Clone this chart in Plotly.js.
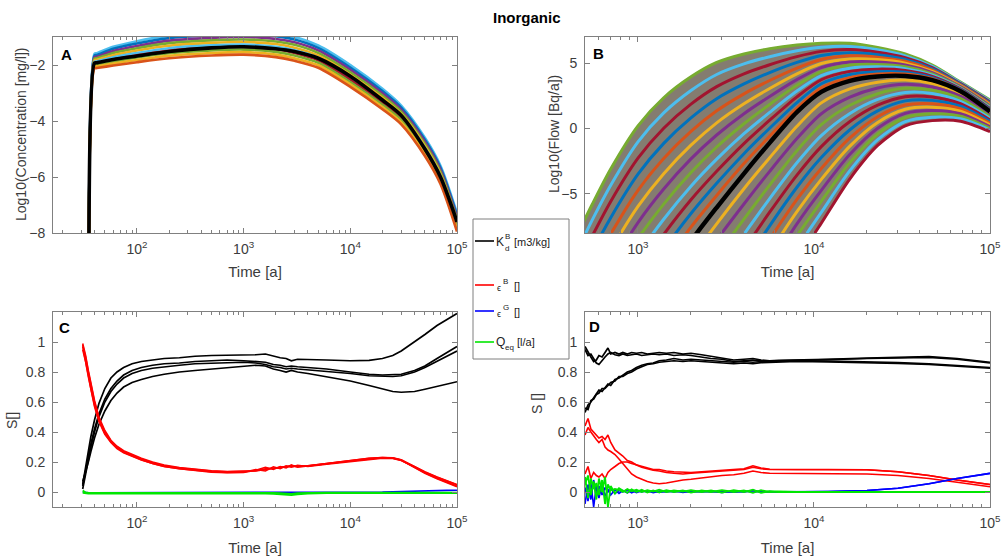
<!DOCTYPE html>
<html>
<head>
<meta charset="utf-8">
<script src="https://cdn.plot.ly/plotly-3.0.1.min.js"></script>
<style>
  html, body { margin: 0; padding: 0; background: #ffffff; }
  #chart { width: 1003px; height: 560px; }
</style>
</head>
<body>
<div id="chart"></div>
<script>
// ---------- Panel A: log10 concentration runs ----------
const timeA = [35.5, 40, 42, 60, 100, 200, 500, 1000, 2000, 3000, 5000, 10000, 20000, 30000, 50000, 70000, 100000];
const concTop    = [-8, -1.6, -1.58, -1.35, -1.15, -0.95, -0.85, -0.82, -0.88, -1.0, -1.3, -2.0, -2.85, -3.45, -4.6, -5.6, -7.3];
const concRun1   = [-8, -1.66, -1.645, -1.42, -1.23, -1.04, -0.94, -0.91, -0.97, -1.09, -1.39, -2.09, -2.93, -3.52, -4.67, -5.67, -7.37];
const concRun2   = [-8, -1.72, -1.705, -1.5, -1.32, -1.13, -1.03, -1.0, -1.07, -1.19, -1.48, -2.17, -3.01, -3.6, -4.74, -5.74, -7.44];
const concRun3   = [-8, -1.77, -1.755, -1.57, -1.4, -1.22, -1.12, -1.09, -1.16, -1.28, -1.57, -2.26, -3.09, -3.67, -4.82, -5.82, -7.52];
const concRun4   = [-8, -1.83, -1.815, -1.65, -1.48, -1.31, -1.21, -1.18, -1.25, -1.38, -1.66, -2.35, -3.17, -3.75, -4.89, -5.89, -7.59];
const concRun5   = [-8, -1.89, -1.875, -1.72, -1.57, -1.4, -1.3, -1.27, -1.35, -1.47, -1.74, -2.43, -3.26, -3.82, -4.96, -5.96, -7.66];
const concRun6   = [-8, -1.95, -1.935, -1.8, -1.65, -1.49, -1.39, -1.36, -1.44, -1.57, -1.83, -2.52, -3.34, -3.9, -5.03, -6.03, -7.73];
const concRun7   = [-8, -2.0, -1.99, -1.87, -1.73, -1.58, -1.48, -1.45, -1.53, -1.66, -1.92, -2.61, -3.42, -3.97, -5.11, -6.11, -7.81];
const concRun8   = [-8, -2.06, -2.05, -1.95, -1.82, -1.67, -1.57, -1.54, -1.63, -1.76, -2.01, -2.69, -3.5, -4.05, -5.18, -6.18, -7.88];
const concBottom = [-8, -2.12, -2.11, -2.02, -1.9, -1.76, -1.66, -1.63, -1.72, -1.85, -2.1, -2.78, -3.58, -4.12, -5.25, -6.25, -7.95];
const concBase   = [-8, -1.93, -1.92, -1.80, -1.68, -1.52, -1.39, -1.35, -1.42, -1.52, -1.76, -2.40, -3.25, -3.80, -5.0, -6.0, -7.6];

// ---------- Panel B: log10 flow runs ----------
const timeB = [450, 550, 700, 1000, 1400, 2000, 2800, 4000, 5600, 8000, 11000, 16000, 23000, 33000, 47000, 68000, 100000];
const flowTop    = [-8.2, -5.8, -3.1, 0.2, 2.35, 3.95, 5.05, 5.7, 6.1, 6.38, 6.52, 6.52, 6.2, 5.7, 4.85, 3.55, 2.18];
const flowBase   = [-22.5, -20.3, -18, -14.6, -11.6, -8.6, -6.05, -3.45, -1.1, 1.25, 2.8, 3.65, 3.98, 4.02, 3.7, 2.85, 1.3];
const flowBottom = [-44, -41, -38, -33, -29, -25, -21, -17.4, -13.7, -10.1, -7.25, -3.85, -1.3, 0.2, 0.6, 0.55, -0.25];
const flowRunsHigh = [
  [-9.4, -7.0, -4.35, -1.03, 1.19, 2.9, 4.13, 4.94, 5.49, 5.94, 6.21, 6.28, 6.02, 5.56, 4.75, 3.49, 2.11],
  [-10.58, -8.22, -5.58, -2.27, 0.02, 1.86, 3.2, 4.18, 4.88, 5.5, 5.9, 6.04, 5.83, 5.42, 4.66, 3.43, 2.03],
  [-11.78, -9.43, -6.83, -3.5, -1.14, 0.81, 2.28, 3.41, 4.28, 5.06, 5.59, 5.8, 5.65, 5.28, 4.56, 3.38, 1.96],
  [-12.97, -10.63, -8.07, -4.73, -2.3, -0.23, 1.35, 2.65, 3.67, 4.62, 5.28, 5.56, 5.46, 5.14, 4.47, 3.32, 1.89],
  [-14.16, -11.84, -9.31, -5.97, -3.46, -1.28, 0.43, 1.89, 3.06, 4.18, 4.97, 5.32, 5.27, 5.0, 4.37, 3.26, 1.81],
  [-15.35, -13.05, -10.55, -7.2, -4.63, -2.33, -0.5, 1.13, 2.45, 3.74, 4.66, 5.09, 5.09, 4.86, 4.28, 3.2, 1.74],
  [-16.54, -14.26, -11.79, -8.43, -5.79, -3.37, -1.42, 0.36, 1.84, 3.3, 4.35, 4.85, 4.9, 4.72, 4.18, 3.14, 1.67],
  [-17.73, -15.47, -13.03, -9.67, -6.95, -4.42, -2.35, -0.4, 1.23, 2.86, 4.04, 4.61, 4.72, 4.58, 4.08, 3.08, 1.59],
  [-18.93, -16.68, -14.28, -10.9, -8.11, -5.46, -3.28, -1.16, 0.63, 2.42, 3.73, 4.37, 4.54, 4.44, 3.99, 3.03, 1.52],
  [-20.12, -17.88, -15.52, -12.13, -9.27, -6.51, -4.2, -1.93, 0.02, 1.98, 3.42, 4.13, 4.35, 4.3, 3.89, 2.97, 1.45],
  [-21.31, -19.09, -16.76, -13.37, -10.44, -7.55, -5.13, -2.69, -0.59, 1.54, 3.11, 3.89, 4.17, 4.16, 3.8, 2.91, 1.37]
];
const flowRunsLow = [
  [null, null, null, null, -13.05, -9.97, -7.3, -4.61, -2.24, 0.17, 1.96, 3.03, 3.54, 3.7, 3.44, 2.66, 1.17],
  [null, null, null, null, -14.5, -11.33, -8.54, -5.78, -3.28, -0.77, 1.13, 2.4, 3.1, 3.38, 3.18, 2.47, 1.04],
  [null, null, null, null, -15.95, -12.7, -9.79, -6.94, -4.33, -1.7, 0.29, 1.78, 2.66, 3.07, 2.93, 2.28, 0.91],
  [null, null, null, null, -17.4, -14.07, -11.03, -8.1, -5.37, -2.63, -0.55, 1.15, 2.22, 2.75, 2.67, 2.08, 0.78],
  [null, null, null, null, -18.85, -15.43, -12.28, -9.26, -6.41, -3.57, -1.39, 0.53, 1.78, 2.43, 2.41, 1.89, 0.65],
  [null, null, null, null, -20.3, -16.8, -13.53, -10.43, -7.45, -4.5, -2.23, -0.1, 1.34, 2.11, 2.15, 1.7, 0.53],
  [null, null, null, null, -21.75, -18.17, -14.77, -11.59, -8.49, -5.43, -3.06, -0.72, 0.9, 1.79, 1.89, 1.51, 0.4],
  [null, null, null, null, -23.2, -19.53, -16.02, -12.75, -9.53, -6.37, -3.9, -1.35, 0.46, 1.47, 1.63, 1.32, 0.27],
  [null, null, null, null, -24.65, -20.9, -17.26, -13.91, -10.58, -7.3, -4.74, -1.98, 0.02, 1.16, 1.38, 1.13, 0.14],
  [null, null, null, null, -26.1, -22.27, -18.51, -15.08, -11.62, -8.23, -5.58, -2.6, -0.42, 0.84, 1.12, 0.93, 0.01],
  [null, null, null, null, -27.55, -23.63, -19.75, -16.24, -12.66, -9.17, -6.42, -3.23, -0.86, 0.52, 0.86, 0.74, -0.12]
];

// ---------- Panel C: sensitivity indices, concentration ----------
const timeC = [31, 33, 35, 37, 40, 44, 50, 57, 65, 75, 90, 110, 140, 180, 250, 350, 500, 700, 1000, 1300,
               1600, 1900, 2200, 2500, 2800, 3200, 4000, 6000, 10000, 15000, 20000, 25000, 30000, 40000, 50000, 65000, 80000, 100000];
const kdC1 = [0.05, 0.17, 0.28, 0.37, 0.48, 0.59, 0.69, 0.76, 0.80, 0.83, 0.855, 0.87, 0.88, 0.89, 0.895, 0.905, 0.91, 0.91, 0.91, 0.915,
              0.92, 0.905, 0.895, 0.89, 0.875, 0.885, 0.885, 0.88, 0.875, 0.878, 0.89, 0.91, 0.94, 1.0, 1.05, 1.11, 1.15, 1.19];
const kdC2 = [0.04, 0.14, 0.24, 0.32, 0.42, 0.52, 0.62, 0.69, 0.74, 0.78, 0.81, 0.83, 0.845, 0.855, 0.86, 0.87, 0.875, 0.88, 0.875, 0.87,
              0.865, 0.85, 0.845, 0.835, 0.84, 0.835, 0.83, 0.82, 0.80, 0.785, 0.78, 0.78, 0.785, 0.81, 0.84, 0.89, 0.93, 0.97];
const kdC3 = [0.02, 0.12, 0.22, 0.30, 0.40, 0.50, 0.60, 0.67, 0.72, 0.76, 0.79, 0.81, 0.825, 0.835, 0.845, 0.855, 0.86, 0.865, 0.865, 0.86,
              0.85, 0.835, 0.83, 0.82, 0.825, 0.82, 0.815, 0.805, 0.79, 0.775, 0.77, 0.77, 0.775, 0.80, 0.83, 0.87, 0.905, 0.94];
const kdC4 = [0.07, 0.13, 0.2, 0.27, 0.36, 0.45, 0.54, 0.61, 0.66, 0.70, 0.73, 0.75, 0.77, 0.785, 0.80, 0.81, 0.82, 0.83, 0.84, 0.845,
              0.84, 0.82, 0.81, 0.80, 0.81, 0.80, 0.79, 0.77, 0.74, 0.71, 0.685, 0.67, 0.665, 0.67, 0.685, 0.705, 0.72, 0.735];
const epsBC1 = [0.98, 0.90, 0.80, 0.71, 0.60, 0.49, 0.40, 0.34, 0.30, 0.27, 0.245, 0.22, 0.195, 0.175, 0.16, 0.15, 0.14, 0.135, 0.135, 0.14,
                0.15, 0.16, 0.165, 0.17, 0.175, 0.172, 0.175, 0.19, 0.21, 0.225, 0.23, 0.228, 0.215, 0.17, 0.135, 0.1, 0.075, 0.05];
const epsBC2 = [0.97, 0.88, 0.78, 0.69, 0.58, 0.48, 0.39, 0.335, 0.295, 0.265, 0.24, 0.215, 0.19, 0.17, 0.155, 0.145, 0.135, 0.13, 0.13, 0.145,
                0.165, 0.15, 0.17, 0.16, 0.18, 0.165, 0.172, 0.188, 0.207, 0.222, 0.228, 0.226, 0.212, 0.165, 0.128, 0.092, 0.066, 0.04];
const epsBC3 = [0.95, 0.87, 0.77, 0.68, 0.57, 0.47, 0.385, 0.33, 0.29, 0.262, 0.238, 0.213, 0.19, 0.17, 0.155, 0.143, 0.132, 0.128, 0.132, 0.15,
                0.14, 0.168, 0.155, 0.175, 0.165, 0.178, 0.17, 0.186, 0.205, 0.22, 0.226, 0.224, 0.21, 0.168, 0.132, 0.098, 0.072, 0.048];
const epsBC4 = [0.99, 0.91, 0.81, 0.72, 0.61, 0.5, 0.41, 0.345, 0.305, 0.275, 0.25, 0.225, 0.2, 0.18, 0.163, 0.152, 0.142, 0.137, 0.138, 0.142,
                0.155, 0.158, 0.162, 0.168, 0.172, 0.17, 0.174, 0.189, 0.209, 0.224, 0.23, 0.227, 0.213, 0.162, 0.125, 0.088, 0.062, 0.035];
const epsGC1 = [0.0, -0.005, -0.005, -0.005, -0.005, -0.005, -0.005, -0.005, -0.005, -0.005, -0.005, -0.005, -0.005, -0.005, -0.005, -0.005, -0.005, -0.005, -0.005, -0.005,
                -0.005, -0.005, -0.005, -0.005, -0.005, -0.005, -0.005, -0.005, -0.004, -0.002, 0.0, 0.002, 0.004, 0.006, 0.008, 0.01, 0.011, 0.012];
const qeqC1 = [0.01, -0.004, -0.005, -0.005, -0.005, -0.005, -0.005, -0.005, -0.005, -0.005, -0.004, -0.004, -0.004, -0.003, -0.003, -0.002, -0.002, -0.002, -0.002, -0.003,
               -0.004, -0.006, -0.008, -0.01, -0.012, -0.008, -0.005, -0.004, -0.004, -0.004, -0.004, -0.004, -0.004, -0.004, -0.004, -0.004, -0.004, -0.004];
const qeqC2 = [-0.005, -0.01, -0.01, -0.01, -0.01, -0.01, -0.01, -0.01, -0.01, -0.01, -0.009, -0.009, -0.008, -0.008, -0.007, -0.006, -0.005, -0.005, -0.006, -0.008,
               -0.01, -0.013, -0.016, -0.019, -0.021, -0.015, -0.01, -0.008, -0.008, -0.008, -0.008, -0.008, -0.008, -0.008, -0.008, -0.008, -0.008, -0.008];

// ---------- Panel D: sensitivity indices, flow ----------
const timeD = [500, 520, 540, 560, 580, 600, 625, 650, 675, 700, 740, 780, 820, 870, 920, 980, 1050, 1130, 1220, 1320,
               1450, 1600, 1800, 2000, 2300, 2600, 3000, 3500, 4000, 4500, 5000, 5600, 6300, 8000, 12000, 20000, 30000, 45000, 65000, 100000];
const kdD1 = [0.97, 0.93, 0.90, 0.87, 0.88, 0.91, 0.90, 0.93, 0.96, 0.92, 0.93, 0.92, 0.93, 0.92, 0.93, 0.925, 0.93, 0.92, 0.925, 0.93,
              0.925, 0.93, 0.92, 0.925, 0.915, 0.905, 0.895, 0.88, 0.885, 0.89, 0.88, 0.875, 0.878, 0.88, 0.885, 0.893, 0.90, 0.903, 0.89, 0.865];
const kdD2 = [0.95, 0.91, 0.92, 0.89, 0.86, 0.85, 0.88, 0.90, 0.92, 0.93, 0.915, 0.91, 0.92, 0.91, 0.915, 0.92, 0.91, 0.915, 0.92, 0.915,
              0.92, 0.91, 0.915, 0.91, 0.90, 0.89, 0.885, 0.87, 0.875, 0.88, 0.875, 0.87, 0.875, 0.877, 0.882, 0.89, 0.896, 0.898, 0.885, 0.86];
const kdD3 = [0.53, 0.58, 0.60, 0.63, 0.66, 0.68, 0.67, 0.70, 0.72, 0.71, 0.75, 0.76, 0.78, 0.80, 0.81, 0.83, 0.845, 0.855, 0.86, 0.875,
              0.88, 0.89, 0.88, 0.885, 0.88, 0.875, 0.87, 0.865, 0.87, 0.865, 0.87, 0.872, 0.873, 0.874, 0.872, 0.868, 0.862, 0.855, 0.845, 0.83];
const kdD4 = [0.56, 0.55, 0.61, 0.62, 0.65, 0.66, 0.69, 0.69, 0.71, 0.73, 0.74, 0.77, 0.77, 0.79, 0.80, 0.82, 0.835, 0.85, 0.855, 0.865,
              0.87, 0.875, 0.87, 0.875, 0.87, 0.865, 0.86, 0.855, 0.86, 0.855, 0.862, 0.865, 0.868, 0.87, 0.868, 0.863, 0.857, 0.85, 0.84, 0.825];
const epsBD1 = [0.44, 0.49, 0.42, 0.40, 0.38, 0.36, 0.37, 0.35, 0.38, 0.33, 0.28, 0.26, 0.24, 0.21, 0.20, 0.18, 0.165, 0.155, 0.145, 0.14,
                0.13, 0.125, 0.12, 0.125, 0.13, 0.135, 0.14, 0.145, 0.15, 0.165, 0.155, 0.15, 0.15, 0.15, 0.15, 0.148, 0.135, 0.11, 0.08, 0.05];
const epsBD2 = [0.38, 0.43, 0.40, 0.37, 0.35, 0.33, 0.35, 0.30, 0.28, 0.27, 0.25, 0.22, 0.19, 0.15, 0.12, 0.10, 0.085, 0.07, 0.06, 0.055,
                0.06, 0.07, 0.08, 0.085, 0.095, 0.10, 0.11, 0.115, 0.125, 0.14, 0.13, 0.125, 0.125, 0.125, 0.124, 0.12, 0.11, 0.09, 0.065, 0.035];
const epsBD3 = [0.12, 0.17, 0.09, 0.13, 0.11, 0.10, 0.12, 0.09, 0.13, 0.15, 0.17, 0.19, 0.20, 0.20, 0.19, 0.18, 0.17, 0.16, 0.15, 0.15,
                0.14, 0.135, 0.13, 0.13, 0.135, 0.14, 0.145, 0.15, 0.155, 0.175, 0.16, 0.152, 0.15, 0.15, 0.15, 0.148, 0.135, 0.11, 0.08, 0.05];
const epsGD1 = [-0.08, 0.05, -0.05, 0.08, -0.03, 0.04, -0.02, 0.03, 0.0, 0.02, -0.01, 0.01, 0.0, 0.015, -0.005, 0.01, 0.0, 0.008, -0.004, 0.006,
                0.0, 0.008, -0.003, 0.005, 0.0, 0.006, -0.003, 0.004, 0.0, 0.012, 0.0, 0.003, 0.0, 0.0, 0.003, 0.01, 0.025, 0.055, 0.09, 0.124];
const epsGD2 = [0.03, -0.06, 0.06, -0.1, 0.04, -0.04, 0.05, -0.03, 0.02, -0.02, 0.015, -0.01, 0.01, -0.005, 0.012, -0.004, 0.008, 0.0, 0.007, -0.003,
                0.006, 0.0, 0.005, -0.002, 0.006, 0.0, 0.004, -0.002, 0.005, 0.0, 0.004, 0.0, 0.001, 0.0, 0.003, 0.01, 0.025, 0.055, 0.09, 0.124];
const qeqD1 = [0.10, -0.04, 0.09, 0.02, 0.06, -0.02, 0.08, -0.08, 0.05, 0.01, 0.02, 0.015, 0.0, 0.02, 0.005, 0.015, 0.0, 0.012, 0.003, 0.015,
               0.0, 0.01, 0.002, 0.012, 0.0, 0.01, -0.004, 0.012, 0.0, 0.015, -0.005, 0.005, 0.0, 0.0, 0.0, 0.0, 0.0, 0.0, 0.0, 0.0];
const qeqD2 = [0.05, 0.11, -0.02, 0.07, -0.05, 0.09, 0.0, 0.1, -0.1, 0.04, -0.01, 0.025, 0.01, -0.005, 0.018, 0.0, 0.015, -0.003, 0.01, -0.002,
               0.012, 0.0, 0.01, -0.004, 0.01, 0.0, 0.012, 0.0, 0.01, -0.005, 0.012, 0.0, 0.004, 0.0, 0.0, 0.0, 0.0, 0.0, 0.0, 0.0];

// ---------- styling ----------
const W = 1003, H = 560;
const runColors = ['#0072BD', '#D95319', '#EDB120', '#7E2F8E', '#77AC30', '#4DBEEE', '#A2142F'];
const concColors = ['#4DBEEE', '#0072BD', '#7E2F8E', '#77AC30', '#EDB120', '#4DBEEE', '#A2142F', '#77AC30', '#EDB120', '#D95319'];
const C_KD = '#000000', C_EB = '#ff0000', C_EG = '#0000ff', C_Q = '#00e600';
const FONT = 'Liberation Sans, Arial, Helvetica, sans-serif';
const AXIS = '#808080', TICKTXT = '#3c3c3c';
const px = v => v / W;          // pixel column -> paper x
const py = v => 1 - v / H;      // pixel row -> paper y

const traces = [];
function addLine(x, y, xa, ya, color, width, shape) {
  traces.push({
    type: 'scatter', mode: 'lines', x: x, y: y, xaxis: xa, yaxis: ya,
    line: { color: color, width: width, shape: shape || 'linear', smoothing: 0.8 },
    hoverinfo: 'skip', showlegend: false
  });
}

// Panel A
const concRuns = [concTop, concRun1, concRun2, concRun3, concRun4, concRun5, concRun6, concRun7, concRun8, concBottom];
concRuns.forEach((r, i) => addLine(timeA, r, 'x', 'y', concColors[i], 2.6, 'spline'));
addLine(timeA, concBase, 'x', 'y', '#000000', 3.6, 'spline');

// Panel B: shaded band behind the runs, then the runs, then the base case
traces.push({ type: 'scatter', mode: 'lines', x: timeB, y: flowBottom, xaxis: 'x2', yaxis: 'y2',
  line: { width: 0, shape: 'spline', smoothing: 0.8 }, hoverinfo: 'skip', showlegend: false });
traces.push({ type: 'scatter', mode: 'lines', x: timeB, y: flowTop, xaxis: 'x2', yaxis: 'y2', fill: 'tonexty',
  fillcolor: 'rgb(132,124,112)', line: { width: 0, shape: 'spline', smoothing: 0.8 }, hoverinfo: 'skip', showlegend: false });
const flowRuns = [flowTop].concat(flowRunsHigh, flowRunsLow, [flowBottom]);
flowRuns.forEach((r, i) => addLine(timeB, r, 'x2', 'y2', runColors[(i + 4) % 7], 3, 'spline'));
addLine(timeB, flowBase, 'x2', 'y2', '#000000', 4.4, 'spline');

// Panel C
[kdC1, kdC2, kdC3, kdC4].forEach(r => addLine(timeC, r, 'x3', 'y3', C_KD, 1.7));
[epsBC1, epsBC2, epsBC3, epsBC4].forEach(r => addLine(timeC, r, 'x3', 'y3', C_EB, 1.6));
addLine(timeC, epsGC1, 'x3', 'y3', C_EG, 1.6);
[qeqC1, qeqC2].forEach(r => addLine(timeC, r, 'x3', 'y3', C_Q, 1.8));

// Panel D
[kdD1, kdD2, kdD3, kdD4].forEach(r => addLine(timeD, r, 'x4', 'y4', C_KD, 1.7));
[epsBD1, epsBD2, epsBD3].forEach(r => addLine(timeD, r, 'x4', 'y4', C_EB, 1.6));
[epsGD1, epsGD2].forEach(r => addLine(timeD, r, 'x4', 'y4', C_EG, 1.6));
[qeqD1, qeqD2].forEach(r => addLine(timeD, r, 'x4', 'y4', C_Q, 1.8));

// ---------- axes ----------
function minorLogTicks(lo, hi) {
  const out = [];
  for (let d = lo; d < hi; d++) for (let m = 2; m <= 9; m++) out.push(m * Math.pow(10, d));
  return out;
}
function timeAxis(domain, range, anchor, majors, titleGap) {
  return {
    type: 'log', domain: domain, range: range, anchor: anchor,
    tickmode: 'array', tickvals: majors,
    ticktext: majors.map(v => '10<sup>' + Math.round(Math.log10(v)) + '</sup>'),
    ticks: 'inside', ticklen: 5, tickwidth: 1, tickcolor: AXIS,
    minor: { tickmode: 'array', tickvals: minorLogTicks(1, 5), ticks: 'inside', ticklen: 3, tickwidth: 1, tickcolor: AXIS, showgrid: false },
    showline: true, linecolor: AXIS, linewidth: 1, mirror: 'allticks',
    showgrid: false, zeroline: false,
    tickfont: { family: FONT, size: 14, color: TICKTXT },
    ticklabelstandoff: 3,
    title: { text: 'Time [a]', font: { family: FONT, size: 15, color: TICKTXT }, standoff: titleGap }
  };
}
function valueAxis(domain, range, anchor, ticks) {
  return {
    domain: domain, range: range, anchor: anchor,
    tickmode: 'array', tickvals: ticks,
    ticks: 'inside', ticklen: 5, tickwidth: 1, tickcolor: AXIS,
    showline: true, linecolor: AXIS, linewidth: 1, mirror: 'allticks',
    showgrid: false, zeroline: false,
    tickfont: { family: FONT, size: 14, color: TICKTXT },
    ticklabelstandoff: 4
  };
}

const xLeft = [px(53), px(457)], xRight = [px(585), px(990)];
const yTop = [py(233), py(37)], yBot = [py(507), py(312)];
const sTicks = [0, 0.2, 0.4, 0.6, 0.8, 1];

// ---------- legend and labels ----------
const annotations = [];
function label(text, x, y, size, xanchor, bold, angle) {
  annotations.push({
    xref: 'paper', yref: 'paper', x: px(x), y: py(y), xanchor: xanchor || 'left', yanchor: 'middle',
    text: bold ? '<b>' + text + '</b>' : text, showarrow: false, textangle: angle || 0,
    font: { family: FONT, size: size, color: bold ? '#000000' : '#222222' }
  });
}
label('Inorganic', 527, 17, 15, 'center', true);
label('A', 59, 55, 15, 'left', true);
label('B', 591, 54, 15, 'left', true);
label('C', 57, 327, 15, 'left', true);
label('D', 587, 326, 15, 'left', true);

// vertical axis titles
function yTitle(text, x, y) {
  annotations.push({
    xref: 'paper', yref: 'paper', x: px(x), y: py(y), xanchor: 'center', yanchor: 'middle',
    text: text, textangle: -90, showarrow: false,
    font: { family: FONT, size: 14, color: TICKTXT }
  });
}
yTitle('Log10(Concentration [mg/l])', 21, 134);
yTitle('Log10(Flow [Bq/a])', 554, 134);
yTitle('S[]', 12, 421);
yTitle('S []', 537, 404);

const shapes = [{ type: 'rect', xref: 'paper', yref: 'paper', x0: px(473), x1: px(569), y0: py(359), y1: py(219),
                  line: { color: '#7f7f7f', width: 1 }, fillcolor: '#ffffff', layer: 'above' }];
const legendRows = [[C_KD, 241], [C_EB, 285], [C_EG, 311], [C_Q, 342]];
legendRows.forEach(([c, y]) => shapes.push({ type: 'line', xref: 'paper', yref: 'paper',
  x0: px(475), x1: px(494), y0: py(y), y1: py(y), line: { color: c, width: 1.6 }, layer: 'above' }));
label('K', 494, 242, 12);
label('B', 503, 236, 8);
label('d', 503, 248, 8);
label('[m3/kg]', 512, 242, 11);
label('\u03f5', 495, 288, 9);
label('B', 501, 281, 8);
label('[]', 512, 286, 11);
label('\u03f5', 495, 314, 9);
label('G', 501, 307, 8);
label('[]', 512, 312, 11);
label('Q', 494, 342, 12);
label('eq', 503, 347, 8);
label('[l/a]', 515, 342, 11);

const layout = {
  width: W, height: H,
  margin: { l: 0, r: 0, t: 0, b: 0, pad: 0 },
  paper_bgcolor: '#ffffff', plot_bgcolor: '#ffffff',
  showlegend: false, hovermode: false,
  font: { family: FONT, color: TICKTXT },
  xaxis:  timeAxis(xLeft,  [1.213, 5], 'y',  [100, 1000, 10000, 100000], 10),
  yaxis:  valueAxis(yTop, [-8, -1], 'x', [-8, -6, -4, -2]),
  xaxis2: timeAxis(xRight, [Math.log10(500), 5], 'y2', [1000, 10000, 100000], 10),
  yaxis2: valueAxis(yTop, [-8, 7], 'x2', [-5, 0, 5]),
  xaxis3: timeAxis(xLeft,  [1.213, 5], 'y3', [100, 1000, 10000, 100000], 12),
  yaxis3: valueAxis(yBot, [-0.1, 1.2], 'x3', sTicks),
  xaxis4: timeAxis(xRight, [Math.log10(500), 5], 'y4', [1000, 10000, 100000], 12),
  yaxis4: valueAxis(yBot, [-0.1, 1.2], 'x4', sTicks),
  annotations: annotations,
  shapes: shapes
};

Plotly.newPlot('chart', traces, layout, { staticPlot: true, displayModeBar: false });
</script>
</body>
</html>
